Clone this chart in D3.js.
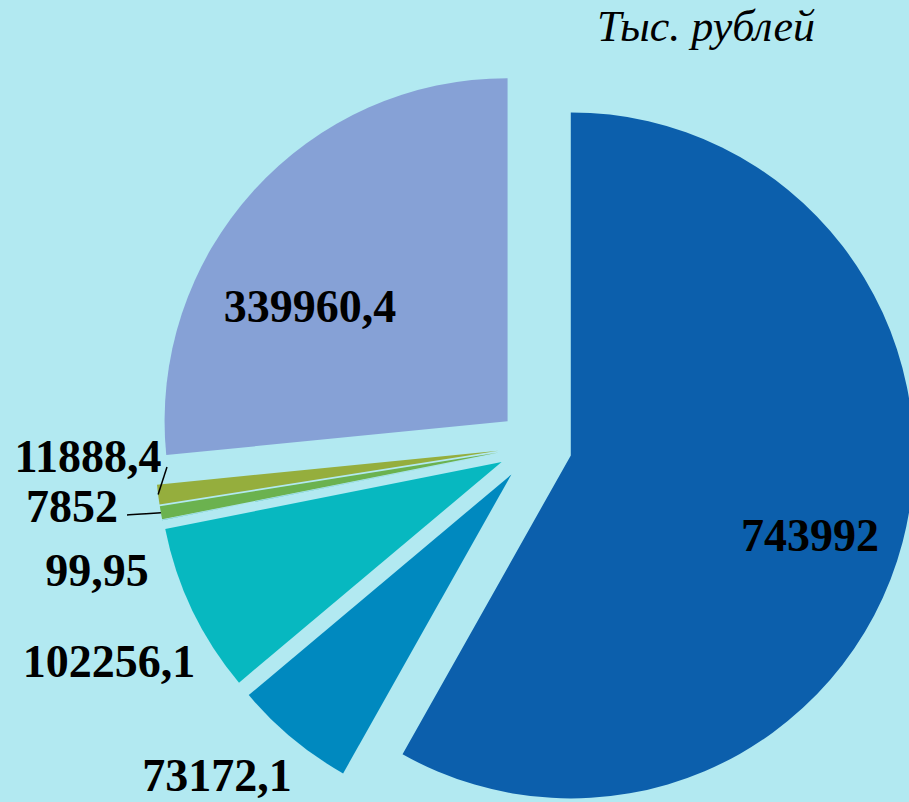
<!DOCTYPE html>
<html>
<head>
<meta charset="utf-8">
<script src="https://cdn.jsdelivr.net/npm/d3@7"></script>
<style>
  body { margin: 0; background: #b2e9f1; }
</style>
</head>
<body>
<script>
// data, clockwise from 12 o'clock
const values = [743992, 73172.1, 102256.1, 99.95, 7852, 11888.4, 339960.4];
const labels = ["743992", "73172,1", "102256,1", "99,95", "7852", "11888,4", "339960,4"];
const colors = ["#0c5fac", "#0089bf", "#07b8c0", "#2aa6a0", "#6bb24f", "#95ae3d", "#86a1d6"];

// where each label goes (x, baseline)
const labelPos = [[810, 551], [217, 791], [109, 677], [97, 586], [72, 522], [88, 472], [310, 322]];

const width = 909, height = 802;
const cx = 535, cy = 446, radius = 343, explode = 37;

const svg = d3.select("body")
              .append("svg")
              .attr("width", width)
              .attr("height", height);

svg.append("rect")
   .attr("width", width)
   .attr("height", height)
   .attr("fill", "#b2e9f1");

const pie = d3.pie().sort(null).value(d => d);
const arcs = pie(values);

const arc = d3.arc()
              .innerRadius(0)
              .outerRadius(radius);

const g = svg.append("g")
             .attr("transform", `translate(${cx},${cy})`);

g.selectAll("path")
 .data(arcs)
 .enter()
 .append("path")
 .attr("d", arc)
 .attr("fill", (d, i) => colors[i])
 .attr("transform", d => {
     const a = (d.startAngle + d.endAngle) / 2;
     return `translate(${explode * Math.sin(a)},${-explode * Math.cos(a)})`;
 });

// leader lines for the two thin slices
const leader = (i, tx, ty) => {
    const d = arcs[i];
    const a = (d.startAngle + d.endAngle) / 2;
    const r = radius + explode;
    return [[cx + r * Math.sin(a), cy - r * Math.cos(a)], [tx, ty]];
};

const line = d3.line().curve(d3.curveBasis);

svg.append("path")
   .attr("d", line(leader(5, 167, 467)))
   .attr("stroke", "#000")
   .attr("stroke-width", 1.5)
   .attr("fill", "none");

svg.append("path")
   .attr("d", line([leader(4, 0, 0)[0], [140, 514], [127, 515]]))
   .attr("stroke", "#000")
   .attr("stroke-width", 1.5)
   .attr("fill", "none");

svg.selectAll("text.lbl")
   .data(labels)
   .enter()
   .append("text")
   .attr("class", "lbl")
   .attr("x", (d, i) => labelPos[i][0])
   .attr("y", (d, i) => labelPos[i][1])
   .attr("text-anchor", "middle")
   .attr("font-family", "Liberation Serif")
   .attr("font-weight", "bold")
   .attr("font-size", "46px")
   .attr("fill", "#000")
   .text(d => d);

svg.append("text")
   .attr("x", 597)
   .attr("y", 41)
   .attr("font-family", "Liberation Serif")
   .attr("font-style", "italic")
   .attr("font-size", "44px")
   .attr("fill", "#000")
   .text("Тыс. рублей");
</script>
</body>
</html>
